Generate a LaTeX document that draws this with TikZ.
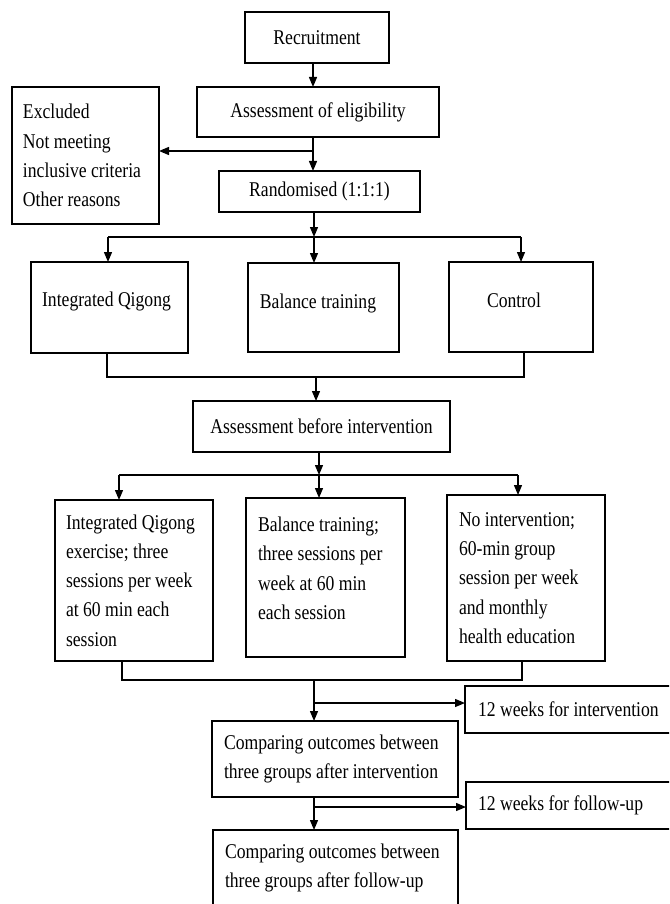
\documentclass[tikz,border=0pt]{standalone}
\usepackage{fontspec}
\setmainfont{Liberation Serif}[FakeStretch=0.84]
\usetikzlibrary{arrows.meta}
\begin{document}
\begin{tikzpicture}[x=1pt,y=-1pt,
  every node/.style={font=\fontsize{21}{29.3}\selectfont, text=black},
  box/.style={draw=black, line width=1.8pt, rectangle, inner sep=0pt, outer sep=0pt},
  para/.style={align=left, execute at begin node={\spaceskip=\fontdimen2\font\relax}},
  conn/.style={draw=black, line width=1.3pt, line join=miter},
  arr/.style={conn, -{Triangle[length=10pt,width=8pt]}},
  txt/.style={inner sep=0pt, outer sep=0pt}
]
\useasboundingbox (0,0) rectangle (669,904);
\clip (0,0) rectangle (669,904);

% boxes
\node[box, minimum width=144pt, minimum height=51pt] (rec) at (317,37.5) {Recruitment};
\node[box, minimum width=242pt, minimum height=50pt] (elig) at (318,112) {Assessment of eligibility};
\node[box, para, text width=125pt, inner xsep=11pt, minimum width=147pt, minimum height=137pt] (excl) at (85.5,155.5) {Excluded\\Not meeting\\inclusive criteria\\Other reasons};
\node[box, minimum width=201pt, minimum height=41pt] (rand) at (319.5,191.5) {Randomised (1:1:1)};

\node[box, minimum width=157pt, minimum height=91pt] (iq) at (109.5,307.5) {};
\node[txt] (iqt) at (106.5,301) {Integrated Qigong};
\node[box, minimum width=151pt, minimum height=89pt] (bal) at (323.5,307.5) {};
\node[txt] (balt) at (318,303) {Balance training};
\node[box, minimum width=144pt, minimum height=90pt] (ctl) at (521,307) {};
\node[txt] (ctlt) at (514,300) {Control};

\node[box, minimum width=257pt, minimum height=51pt] (abi) at (321.5,426.5) {Assessment before intervention};

\node[box, para, text width=136pt, inner xsep=11pt, minimum width=158pt, minimum height=161pt] (g1) at (134,580.5) {Integrated Qigong\\exercise; three\\sessions per week\\at 60 min each\\session};
\node[box, minimum width=159pt, minimum height=159pt] (g2) at (325.5,577.5) {};
\node[txt, para, anchor=north west] (g2t) at (258,517) {Balance training;\\three sessions per\\week at 60 min\\each session};
\node[box, para, text width=134pt, inner xsep=12pt, minimum width=158pt, minimum height=166pt] (g3) at (526,578) {No intervention;\\60-min group\\session per week\\and monthly\\health education};

\node[box, para, text width=222pt, inner xsep=12pt, minimum width=246pt, minimum height=76pt] (co1) at (335,759) {Comparing outcomes between\\three groups after intervention};
\node[box, para, anchor=west, text width=210pt, inner xsep=13pt, minimum height=47pt] (wi) at (465,709.5) {12 weeks for intervention};
\node[box, para, text width=221pt, inner xsep=12pt, minimum width=245pt, minimum height=76pt] (co2) at (335.5,868) {Comparing outcomes between\\three groups after follow-up};
\node[box, para, anchor=west, text width=210pt, inner xsep=12pt, minimum height=47pt] (wf) at (466,805.5) {12 weeks for follow-up};

% connectors
\coordinate (tA) at (313,0);
\draw[arr] (rec.south -| tA) -- (elig.north -| tA);
\draw[arr] (elig.south -| tA) -- (rand.north -| tA);
\coordinate (bx) at (313,151);
\draw[arr] (bx) -- (bx -| excl.east);

\coordinate (bM) at (314,237);
\coordinate (bL) at (108,237);
\coordinate (bR) at (521,237);
\draw[arr] (rand.south -| bM) -- (bM);
\draw[conn] (bL) -- (bR);
\draw[arr] (bL) -- (bL |- iq.north);
\draw[arr] (bM) -- (bM |- bal.north);
\draw[arr] (bR) -- (bR |- ctl.north);

\coordinate (cL) at (107,377);
\coordinate (cR) at (524,377);
\coordinate (cM) at (316,377);
\draw[conn] (cL |- iq.south) -- (cL) -- (cR) -- (cR |- ctl.south);
\draw[arr] (cM) -- (cM |- abi.north);

\coordinate (dM) at (319,475);
\coordinate (dL) at (119,475);
\coordinate (dR) at (518,475);
\draw[arr] (abi.south -| dM) -- (dM);
\draw[conn] (dL) -- (dR);
\draw[arr] (dL) -- (dL |- g1.north);
\draw[arr] (dM) -- (dM |- g2.north);
\draw[arr] (dR) -- (dR |- g3.north);

\coordinate (eL) at (122,680);
\coordinate (eR) at (522,680);
\coordinate (eM) at (314,680);
\draw[conn] (eL |- g1.south) -- (eL) -- (eR) -- (eR |- g3.south);
\draw[arr] (eM) -- (eM |- co1.north);
\coordinate (f1) at (314,703);
\draw[arr] (f1) -- (f1 -| wi.west);
\draw[arr] (co1.south -| eM) -- (co2.north -| eM);
\coordinate (f2) at (314,807);
\draw[arr] (f2) -- (f2 -| wf.west);
\end{tikzpicture}
\end{document}
